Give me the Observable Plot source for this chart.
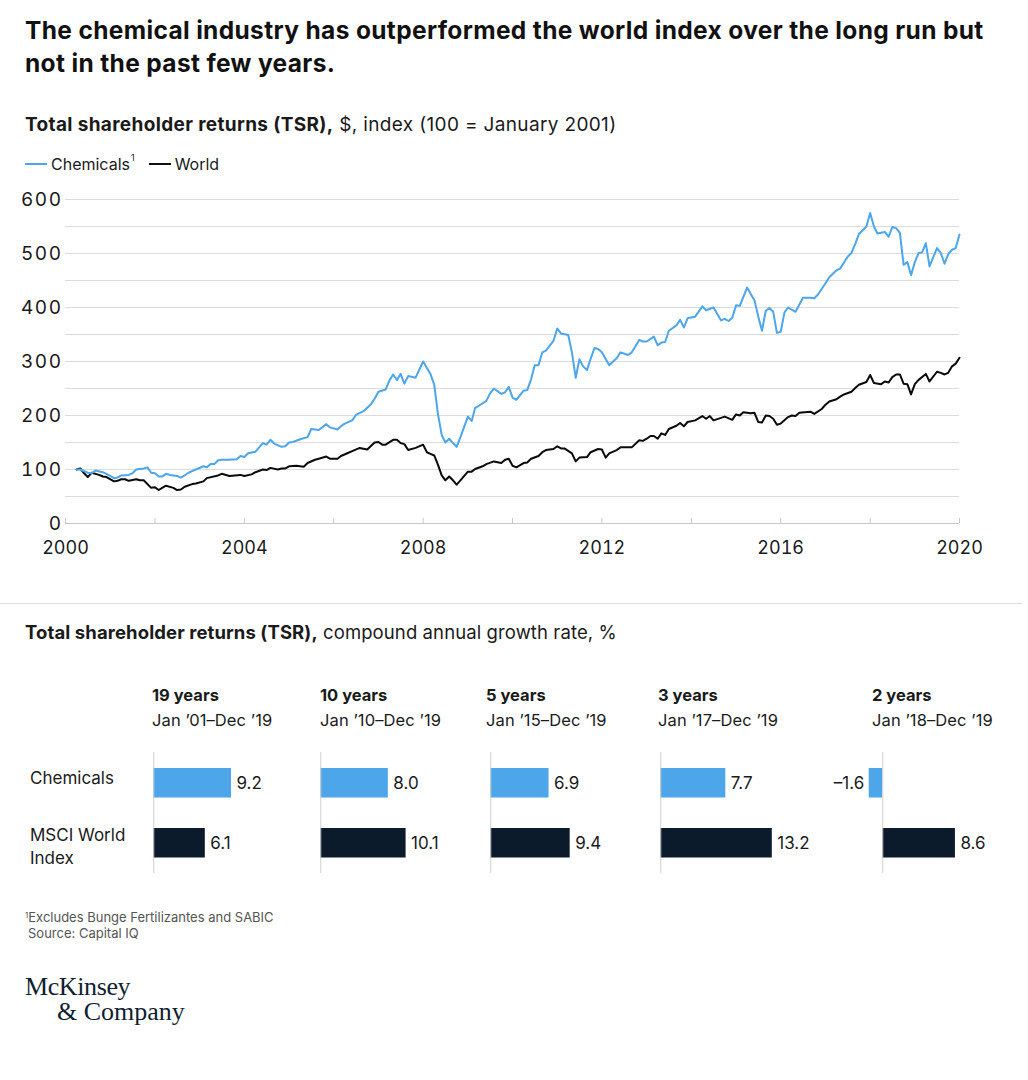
<!DOCTYPE html>
<html>
<head>
<meta charset="utf-8">
<script src="https://cdn.jsdelivr.net/npm/d3@7"></script>
<script src="https://cdn.jsdelivr.net/npm/@observablehq/plot@0.6"></script>
<style>
  html, body { margin: 0; padding: 0; background: #fff; }
  body { width: 1028px; height: 1080px; position: relative; font-family: Inter, "Liberation Sans", Arial, sans-serif; color: #1a1a1a; overflow: hidden; }
  .abs { position: absolute; white-space: nowrap; }
  #title { left: 25px; top: 14px; font-size: 24.5px; line-height: 33px; font-weight: 700; color: #111; letter-spacing: 0.35px; }
  .sub { font-size: 18.5px; line-height: 24px; }
  .sub b { font-weight: 700; }
  #sub1 { font-size: 19px; letter-spacing: 0.35px; }
  #sub2 { font-size: 18.5px; letter-spacing: 0.1px; }
  #legend { left: 25px; top: 154px; font-size: 16px; line-height: 20px; display: flex; align-items: center; }
  .sw { display: inline-block; width: 22px; height: 2px; margin-right: 4px; }
  .hdr { font-size: 16.5px; font-weight: 700; line-height: 22px; }
  .rng { font-size: 16.5px; line-height: 22px; letter-spacing: 0.1px; }
  .row { font-size: 17px; line-height: 23px; }
  .foot { font-size: 13px; line-height: 16px; color: #555; }
  .logo { font-family: "Liberation Serif", "DejaVu Serif", serif; font-size: 26px; line-height: 26px; color: #0f1e2e; }
  svg { overflow: visible; }
</style>
</head>
<body>
<script>
// ---------- Data ----------
const chemicals = [
  ["2000-04",100],["2000-05",100],["2000-07",94],["2000-08",93],["2000-09",98],["2000-11",95],["2000-12",92],
  ["2001-02",84],["2001-03",85],["2001-04",89],["2001-06",90],["2001-07",93],["2001-08",100],["2001-10",102],["2001-11",104],["2001-12",94],
  ["2002-01",93],["2002-02",87],["2002-03",87],["2002-04",92],["2002-05",90],["2002-07",88],["2002-08",85],["2002-09",89],["2002-10",94],["2002-11",97],["2002-12",100],
  ["2003-02",106],["2003-03",104],["2003-04",110],["2003-05",110],["2003-06",117],["2003-07",118],["2003-09",118],["2003-11",119],["2003-12",125],
  ["2004-01",123],["2004-02",130],["2004-04",133],["2004-05",141],["2004-06",149],["2004-07",146],["2004-08",155],["2004-09",148],["2004-11",142],["2004-12",143],
  ["2005-01",150],["2005-02",151],["2005-04",156],["2005-06",160],["2005-07",175],["2005-09",173],["2005-11",184],["2005-12",178],
  ["2006-02",174],["2006-03",180],["2006-04",185],["2006-06",191],["2006-07",201],["2006-09",208],["2006-11",221],["2006-12",231],
  ["2007-01",244],["2007-03",248],["2007-04",265],["2007-05",276],["2007-06",266],["2007-07",277],["2007-08",259],["2007-09",273],["2007-11",270],
  ["2008-01",300],["2008-03",277],["2008-04",257],["2008-05",203],["2008-06",164],["2008-07",150],["2008-08",157],["2008-09",149],["2008-10",142],["2008-11",160],
  ["2009-01",198],["2009-02",190],["2009-03",214],["2009-04",218],["2009-06",227],["2009-07",241],["2009-08",250],["2009-10",240],["2009-11",243],["2009-12",253],
  ["2010-01",233],["2010-02",229],["2010-04",246],["2010-05",247],["2010-06",267],["2010-07",293],["2010-08",293],["2010-09",317],["2010-10",320],["2010-12",338],
  ["2011-01",361],["2011-02",352],["2011-04",349],["2011-05",317],["2011-06",270],["2011-07",304],["2011-08",291],["2011-09",284],["2011-10",305],["2011-11",325],["2011-12",323],
  ["2012-01",317],["2012-03",293],["2012-04",300],["2012-05",306],["2012-06",317],["2012-08",312],["2012-09",317],["2012-11",340],["2012-12",337],
  ["2013-01",337],["2013-03",346],["2013-04",330],["2013-05",335],["2013-06",336],["2013-07",357],["2013-09",367],["2013-10",377],["2013-11",363],["2013-12",380],
  ["2014-02",383],["2014-04",402],["2014-05",395],["2014-07",400],["2014-09",376],["2014-10",379],["2014-11",375],["2014-12",381],
  ["2015-01",404],["2015-02",403],["2015-04",437],["2015-06",413],["2015-07",384],["2015-08",357],["2015-09",394],["2015-10",399],["2015-11",392],["2015-12",353],
  ["2016-01",355],["2016-02",391],["2016-03",400],["2016-05",392],["2016-07",418],["2016-09",418],["2016-10",417],["2016-11",424],
  ["2017-01",445],["2017-02",456],["2017-04",469],["2017-05",472],["2017-07",494],["2017-08",501],["2017-09",518],["2017-10",536],["2017-11",543],["2017-12",550],
  ["2018-01",575],["2018-02",550],["2018-03",537],["2018-05",540],["2018-06",531],["2018-07",549],["2018-08",547],["2018-09",538],["2018-10",479],["2018-11",484],["2018-12",460],
  ["2019-01",484],["2019-02",501],["2019-03",502],["2019-04",519],["2019-05",476],["2019-07",510],["2019-08",501],["2019-09",481],["2019-10",499],["2019-11",507],["2019-12",510],
  ["2020-01",535]
];
const world = [
  ["2000-04",100],["2000-05",102],["2000-06",93],["2000-07",86],["2000-08",94],["2000-10",90],["2000-11",87],["2000-12",86],
  ["2001-02",78],["2001-03",79],["2001-04",82],["2001-05",82],["2001-06",79],["2001-08",82],["2001-09",80],["2001-10",80],["2001-12",66],
  ["2002-01",67],["2002-02",62],["2002-03",66],["2002-04",70],["2002-06",66],["2002-07",62],["2002-08",63],["2002-09",68],["2002-11",73],["2002-12",74],
  ["2003-02",78],["2003-03",84],["2003-06",89],["2003-07",92],["2003-09",88],["2003-12",90],
  ["2004-01",88],["2004-03",91],["2004-04",95],["2004-06",100],["2004-07",99],["2004-08",103],["2004-10",100],["2004-11",102],["2004-12",102],
  ["2005-01",106],["2005-03",107],["2005-05",105],["2005-06",112],["2005-08",118],["2005-09",120],["2005-11",124],["2005-12",120],
  ["2006-02",120],["2006-03",125],["2006-05",131],["2006-06",134],["2006-08",140],["2006-10",137],["2006-12",150],
  ["2007-01",151],["2007-02",146],["2007-03",146],["2007-05",155],["2007-06",155],["2007-07",149],["2007-08",147],["2007-09",136],["2007-11",140],
  ["2008-01",146],["2008-02",132],["2008-03",129],["2008-04",126],["2008-05",109],["2008-06",89],["2008-07",80],["2008-08",87],["2008-09",80],["2008-10",72],["2008-11",80],
  ["2009-01",96],["2009-02",96],["2009-03",101],["2009-05",106],["2009-06",110],["2009-08",115],["2009-10",112],["2009-11",118],["2009-12",120],
  ["2010-01",107],["2010-02",104],["2010-04",112],["2010-05",113],["2010-06",120],["2010-08",125],["2010-09",132],["2010-10",136],["2010-12",138],
  ["2011-01",143],["2011-02",139],["2011-03",139],["2011-05",130],["2011-06",115],["2011-07",122],["2011-09",123],["2011-10",132],["2011-12",138],
  ["2012-01",137],["2012-02",122],["2012-03",130],["2012-05",136],["2012-06",141],["2012-09",141],["2012-11",154],["2012-12",153],
  ["2013-01",157],["2013-02",162],["2013-03",162],["2013-04",157],["2013-05",167],["2013-06",164],["2013-07",175],["2013-09",181],["2013-10",186],["2013-11",180],["2013-12",188],
  ["2014-02",191],["2014-04",199],["2014-05",194],["2014-06",199],["2014-07",191],["2014-10",198],["2014-12",192],
  ["2015-01",202],["2015-02",200],["2015-03",206],["2015-05",204],["2015-06",205],["2015-07",188],["2015-08",187],["2015-09",200],["2015-10",199],["2015-11",194],["2015-12",183],
  ["2016-01",185],["2016-03",197],["2016-04",200],["2016-05",199],["2016-06",205],["2016-09",207],["2016-10",203],["2016-12",212],
  ["2017-01",220],["2017-02",226],["2017-04",230],["2017-05",235],["2017-06",239],["2017-08",244],["2017-09",251],["2017-10",257],["2017-12",262],
  ["2018-01",275],["2018-02",260],["2018-04",258],["2018-05",263],["2018-06",261],["2018-07",271],["2018-08",276],["2018-09",276],["2018-10",259],["2018-11",258],["2018-12",239],
  ["2019-01",258],["2019-02",266],["2019-04",277],["2019-05",263],["2019-07",281],["2019-08",279],["2019-09",276],["2019-10",279],["2019-11",291],["2019-12",296],
  ["2020-01",307]
];
const yTickLabels = [0, 100, 200, 300, 400, 500, 600];
const xLabelYears = ["2000", "2004", "2008", "2012", "2016", "2020"];
const xTickYears = ["2000","2002","2004","2006","2008","2010","2012","2014","2016","2018","2020"];

const periods = ["19 years", "10 years", "5 years", "3 years", "2 years"];
const periodRanges = ["Jan \u201901\u2013Dec \u201919", "Jan \u201910\u2013Dec \u201919", "Jan \u201915\u2013Dec \u201919", "Jan \u201917\u2013Dec \u201919", "Jan \u201918\u2013Dec \u201919"];
const seriesNames = ["Chemicals", "MSCI World Index"];
const chemicalsCagr = [9.2, 8.0, 6.9, 7.7, -1.6];
const worldCagr = [6.1, 10.1, 9.4, 13.2, 8.6];

const BLUE = "#4da6ea";
const NAVY = "#0c1b2b";
const FONT = "Inter, Liberation Sans, Arial, sans-serif";
const parse = d3.utcParse("%Y-%m");
const parseYear = d3.utcParse("%Y");
const toRows = (arr) => arr.map(([d, v]) => ({date: parse(d), value: v}));

function addDiv(cls, left, top, html) {
  const el = document.createElement("div");
  el.className = "abs " + cls;
  el.style.left = left + "px";
  el.style.top = top + "px";
  el.innerHTML = html;
  document.body.appendChild(el);
  return el;
}

// ---------- Text ----------
addDiv("", 25, 14, "The chemical industry has outperformed the world index over the long run but<br>not in the past few years.").id = "title";
addDiv("sub", 25, 113, "<b>Total shareholder returns (TSR),</b> $, index (100 = January 2001)").id = "sub1";
addDiv("", 25, 154, `<span class="sw" style="background:${BLUE}"></span>Chemicals<span style="font-size:9px;position:relative;top:-6px;margin-left:1px">1</span><span class="sw" style="background:#111;margin-left:14px"></span>World`).id = "legend";

// ---------- Line chart ----------
const lineChart = Plot.plot({
  width: 1028,
  height: 385,
  marginLeft: 65,
  marginRight: 69,
  marginTop: 14,
  marginBottom: 47,
  style: {fontFamily: FONT, color: "#1a1a1a", background: "transparent"},
  x: {type: "utc", domain: [parse("2000-01"), parse("2020-01")]},
  y: {domain: [0, 600]},
  marks: [
    Plot.gridY(d3.range(50, 601, 50), {stroke: "#dcdcdc", strokeOpacity: 1}),
    Plot.axisY(yTickLabels, {tickSize: 0, tickPadding: 3, fontSize: 19, label: null}),
    Plot.ruleY([0], {stroke: "#c8c8c8"}),
    Plot.ruleX(xTickYears.map(parseYear), {y1: 0, y2: 0, insetBottom: 5, stroke: "#c8c8c8"}),
    Plot.axisX(xLabelYears.map(parseYear), {tickSize: 0, tickPadding: 18, fontSize: 18, tickFormat: d3.utcFormat("%Y"), label: null}),
    Plot.line(toRows(world), {x: "date", y: "value", stroke: "#0a0a0a", strokeWidth: 2}),
    Plot.line(toRows(chemicals), {x: "date", y: "value", stroke: BLUE, strokeWidth: 2})
  ]
});
lineChart.style.position = "absolute";
lineChart.style.left = "0px";
lineChart.style.top = "185px";
lineChart.querySelectorAll("g[aria-label='y-axis tick label'] text").forEach(t => t.setAttribute("letter-spacing", "1.5"));
document.body.appendChild(lineChart);

// separator
const sep = document.createElement("div");
sep.style.cssText = "position:absolute;left:0;top:603px;width:1022px;height:1px;background:#dedede";
document.body.appendChild(sep);

// ---------- Bar section ----------
addDiv("sub", 25, 620, "<b>Total shareholder returns (TSR),</b> compound annual growth rate, %").id = "sub2";

const colLeft = [152, 320, 486, 658, 872];
const colZero = [153.3, 320.7, 490, 660.7, 882.7];
const pxPerUnit = 8.45;
const xLo = -5, xHi = 15;

periods.forEach((p, i) => {
  addDiv("hdr", colLeft[i], 684, p);
  addDiv("rng", colLeft[i], 709, periodRanges[i]);
});
addDiv("row", 30, 767, "Chemicals");
addDiv("row", 30, 824, "MSCI World<br>Index");

periods.forEach((p, i) => {
  const rows = [
    {series: seriesNames[0], value: chemicalsCagr[i]},
    {series: seriesNames[1], value: worldCagr[i]}
  ];
  const range = (xHi - xLo) * pxPerUnit;
  const svg = Plot.plot({
    width: range + 45,
    height: 121,
    marginLeft: 0,
    marginRight: 45,
    marginTop: 0,
    marginBottom: 0,
    style: {fontFamily: FONT, background: "transparent", overflow: "visible"},
    x: {domain: [xLo, xHi], axis: null},
    y: {domain: seriesNames, padding: 0, axis: null},
    color: {domain: seriesNames, range: [BLUE, NAVY]},
    marks: [
      Plot.barX(rows, {x: "value", y: "series", fill: "series", insetTop: 15, insetBottom: 15.5}),
      Plot.ruleX([0], {stroke: "#d0d0d0"}),
      Plot.text(rows.filter(d => d.value >= 0), {x: "value", y: "series", text: d => d.value.toFixed(1), textAnchor: "start", dx: 5, fontSize: 17, fill: "#1a1a1a"}),
      Plot.text(rows.filter(d => d.value < 0), {x: "value", y: "series", text: d => "\u2013" + Math.abs(d.value).toFixed(1), textAnchor: "end", dx: -5, fontSize: 17, fill: "#1a1a1a"})
    ]
  });
  svg.style.position = "absolute";
  svg.style.left = (colZero[i] - (0 - xLo) * pxPerUnit) + "px";
  svg.style.top = "752px";
  document.body.appendChild(svg);
});

// ---------- Footer ----------
addDiv("foot", 25, 909, "<span style='font-size:8px;position:relative;top:-4px'>1</span>Excludes Bunge Fertilizantes and SABIC");
addDiv("foot", 28, 925, "Source: Capital IQ");
addDiv("logo", 25, 974, "McKinsey").style.letterSpacing = "-0.4px";
addDiv("logo", 57, 999, "&amp; Company");
</script>
</body>
</html>
